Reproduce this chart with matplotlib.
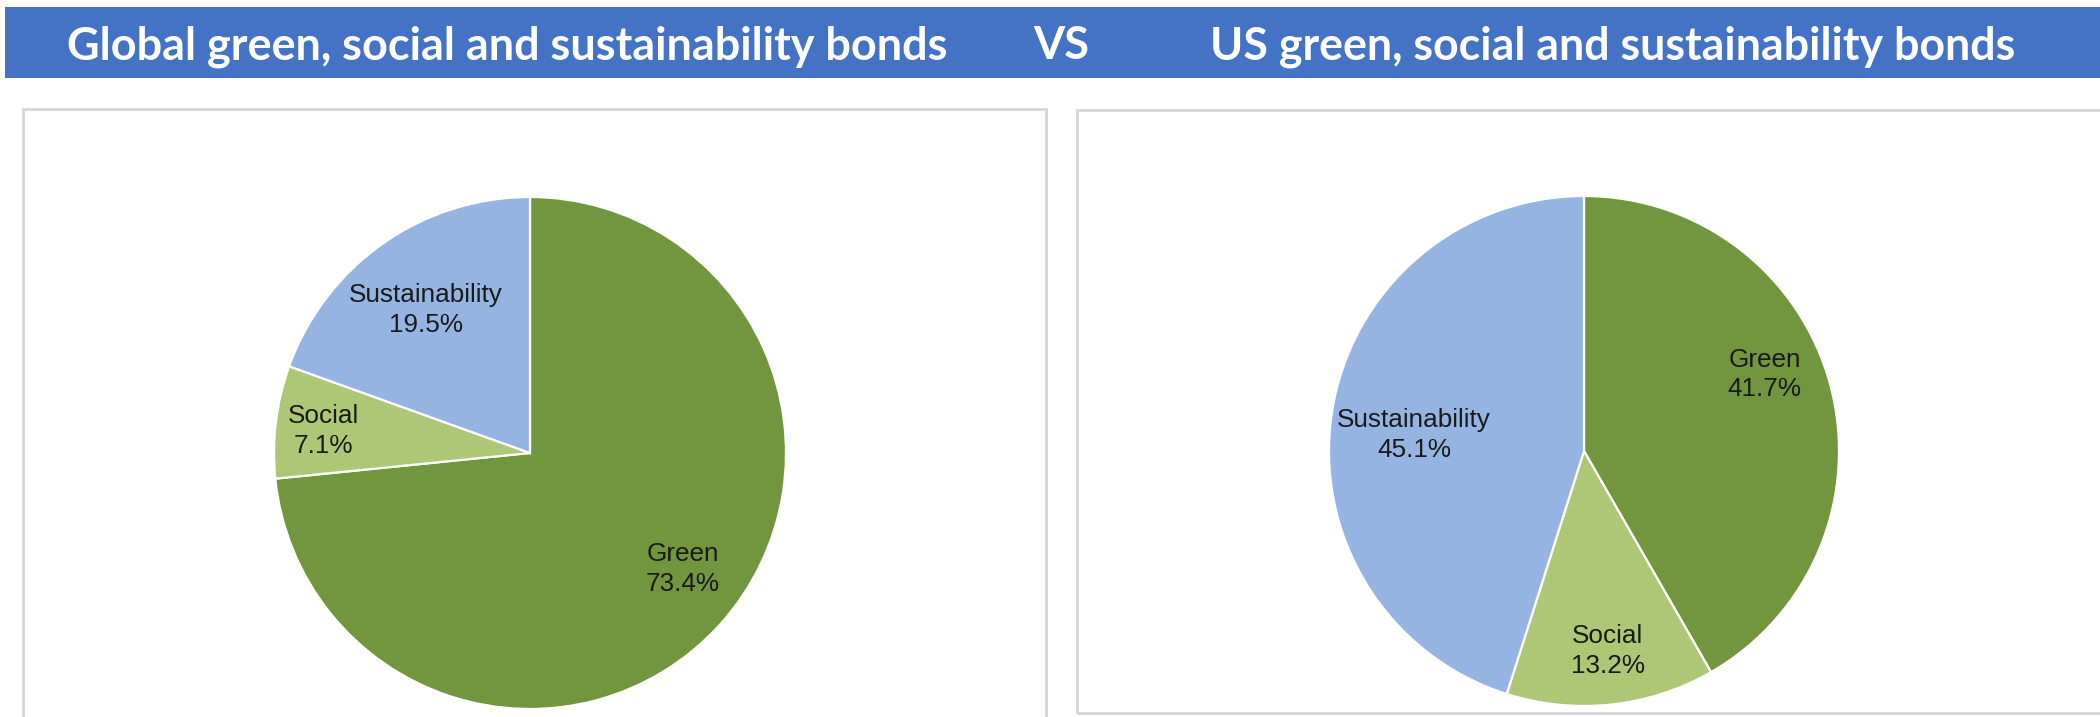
import matplotlib
matplotlib.use("Agg")

import numpy as np
import matplotlib.pyplot as plt
from matplotlib.patches import Rectangle

# =========================================================
# Data
# =========================================================

categories = ["Green", "Social", "Sustainability"]

global_share = [73.4, 7.1, 19.5]
us_share = [41.7, 13.2, 45.1]

left_title = "Global green, social and sustainability bonds"
mid_title = "VS"
right_title = "US green, social and sustainability bonds"

# =========================================================
# Style / layout
# =========================================================

W, H = 2100, 717
DPI = 100

HEADER_BLUE = "#4472C4"
BOX_GREY = "#D6D6D6"
SLICE_COLORS = ["#71963D", "#AEC777", "#95B4E1"]

TITLE_FONT = ["Lato", "DejaVu Sans"]
LABEL_FONT = ["Liberation Sans", "DejaVu Sans"]

# label placement per slice: (angle shift from mid-angle [deg], radius fraction)
GLOBAL_LABEL_POS = [(5.0, 0.75), (1.0, 0.81), (1.0, 0.69)]
US_LABEL_POS = [(8.0, 0.77), (0.7, 0.79), (3.4, 0.67)]


def fx(px):
    return px / W


def fy(py):
    # pixel measured from top -> figure fraction
    return 1 - py / H


fig = plt.figure(figsize=(W / DPI, H / DPI), dpi=DPI)
fig.patch.set_facecolor("white")

# =========================================================
# Header band
# =========================================================

fig.patches.append(
    Rectangle(
        (fx(5), fy(78)),
        1 - fx(5),
        (78 - 7) / H,
        transform=fig.transFigure,
        facecolor=HEADER_BLUE,
        edgecolor="none",
        zorder=-2
    )
)


def fit_text(x_center, width_px, text):
    t = fig.text(
        fx(x_center), fy(59), text,
        ha="center", va="baseline",
        color="white", fontweight="bold",
        family=TITLE_FONT, fontsize=30
    )
    if width_px:
        r = fig.canvas.get_renderer()
        w = t.get_window_extent(renderer=r).width
        t.set_fontsize(30 * width_px / w)
    return t


t1 = fit_text(507, 881, left_title)
fit_text(1613, 804, right_title)
fit_text(1061, None, mid_title).set_fontsize(t1.get_fontsize())

# =========================================================
# Panel frames
# =========================================================

for (x0, y0, x1, y1) in [(23, 109, 1046, 730), (1077, 110, 2110, 713)]:
    fig.patches.append(
        Rectangle(
            (fx(x0), fy(y1)),
            (x1 - x0) / W,
            (y1 - y0) / H,
            transform=fig.transFigure,
            facecolor="none",
            edgecolor=BOX_GREY,
            linewidth=2.0,
            zorder=-1
        )
    )

# =========================================================
# Pies
# =========================================================


def draw_pie(cx, cy, radius, values, label_pos):
    ax = fig.add_axes([
        fx(cx - radius),
        fy(cy + radius),
        2 * radius / W,
        2 * radius / H
    ])
    ax.patch.set_visible(False)
    wedges, _ = ax.pie(
        values,
        colors=SLICE_COLORS,
        startangle=90,
        counterclock=False,
        radius=1.0,
        wedgeprops=dict(edgecolor="white", linewidth=1.6)
    )
    for w, name, v, (shift, r) in zip(wedges, categories, values, label_pos):
        mid = np.deg2rad((w.theta1 + w.theta2) / 2 + shift)
        ax.text(
            r * np.cos(mid), r * np.sin(mid),
            f"{name}\n{v:.1f}%",
            ha="center", va="center",
            family=LABEL_FONT, fontsize=18.8,
            color="#1A1A1A", linespacing=1.3
        )
    ax.set_xlim(-1, 1)
    ax.set_ylim(-1, 1)
    ax.set_aspect("equal")
    ax.axis("off")
    return ax


draw_pie(530, 453, 256, global_share, GLOBAL_LABEL_POS)
draw_pie(1584, 451, 255, us_share, US_LABEL_POS)

fig.savefig("out.png", dpi=DPI, facecolor="white")
